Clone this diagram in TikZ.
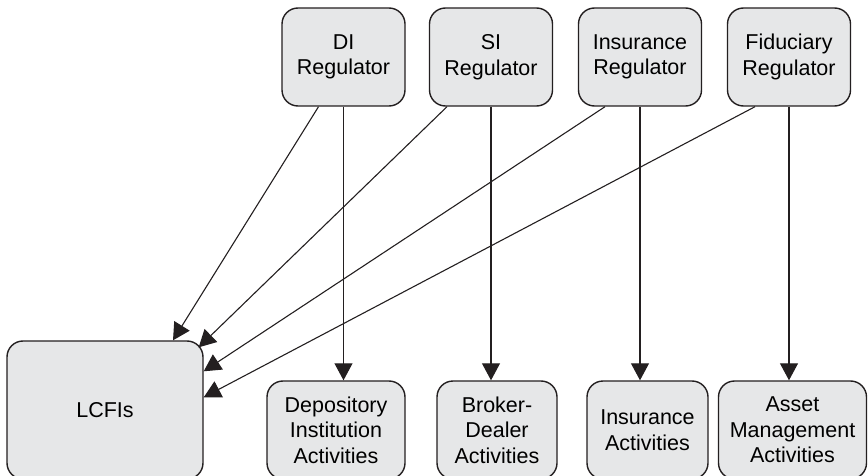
\documentclass[tikz,border=0pt]{standalone}
\RequirePackage{fontspec}
\setmainfont{Liberation Sans}
\RequirePackage{tikz}
\usetikzlibrary{calc}
\usetikzlibrary{arrows.meta}
\definecolor{boxgray}{RGB}{230,231,232}
\definecolor{edgegray}{RGB}{35,31,32}

\begin{document}
\begin{tikzpicture}[x=1pt,y=-1pt,
                    box/.style={draw=edgegray,fill=boxgray,line width=1.4pt,rounded corners=16pt,
                                align=center,inner sep=0pt,font=\fontsize{21.5}{25.5}\selectfont},
                    reg/.style={box,minimum width=123pt,minimum height=98pt},
                    act/.style={box,minimum height=98pt},
                    arr/.style={draw=edgegray,line width=1.1pt,-{Triangle[length=17pt,width=18pt]}}]
                    \useasboundingbox (0,0) rectangle (868,476);

                    \node[reg] (di) at (343.5,57) {DI\\Regulator};
                    \node[reg] (si) at (491,57) {SI\\Regulator};
                    \node[reg] (insreg) at (640,57) {Insurance\\Regulator};
                    \node[reg] (fid) at (789,57) {Fiduciary\\Regulator};

                    \node[box,minimum width=196pt,minimum height=138pt] (lcfi) at (105,410) {LCFIs};
                    \node[act,minimum width=138pt] (dep) at (336,430) {Depository\\Institution\\Activities};
                    \node[act,minimum width=120pt] (bd) at (497,430) {Broker-\\Dealer\\Activities};
                    \node[act,minimum width=121pt] (insact) at (647.5,430) {Insurance\\Activities};
                    \node[act,minimum width=148pt] (am) at (792.5,430) {Asset\\Management\\Activities};

                    \draw[arr] (di.south) -- (di.south |- dep.north);
                    \draw[arr] (si.south) -- (si.south |- bd.north);
                    \draw[arr] (insreg.south) -- (insreg.south |- insact.north);
                    \draw[arr] (fid.south) -- (fid.south |- am.north);

                    \draw[arr] ([xshift=-25pt]di.south) -- ([xshift=68pt]lcfi.north);
                    \draw[arr] ([xshift=-44pt]si.south) -- ([xshift=-5pt,yshift=-7pt]lcfi.north east);
                    \draw[arr] ([xshift=-35pt]insreg.south) -- ([yshift=-31pt]lcfi.north east);
                    \draw[arr] ([xshift=-34pt]fid.south) -- ([yshift=-57pt]lcfi.north east);
                \end{tikzpicture}
\end{document}
